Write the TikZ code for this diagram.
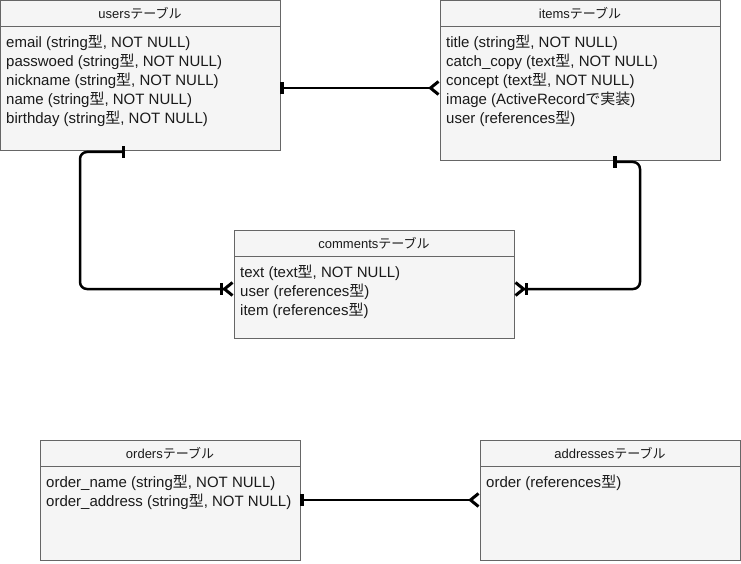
\documentclass[tikz,border=0pt]{standalone}
\usepackage{fontspec}
\setmainfont{Liberation Sans}
\newfontfamily\jpfont{Noto Sans CJK JP}
\newcommand{\jp}[1]{{\jpfont #1}}
\usetikzlibrary{positioning,arrows.meta}
\definecolor{tblfill}{HTML}{F5F5F5}
\definecolor{tblline}{HTML}{666666}
\definecolor{tbltext}{HTML}{1A1A1A}
\begin{document}
\begin{tikzpicture}[x=1pt, y=-1pt,
  tblhead/.style={draw=tblline, fill=tblfill, line width=0.8pt, inner sep=0pt, outer sep=0pt,
    minimum height=26pt, font=\fontsize{13}{15}\selectfont, text=tbltext},
  tblbody/.style={draw=tblline, fill=tblfill, line width=0.8pt, inner sep=0pt, outer sep=0pt},
  fields/.style={anchor=north west, align=left, inner sep=0pt, text=tbltext,
    font=\fontsize{15}{19}\selectfont},
  rel/.style={draw, line width=2.5pt, rounded corners=7pt},
  onemany/.style={arrows={{Rectangle[width=12pt,length=3.5pt]}-{Straight Barb[reversed,length=8pt,width=13pt,line width=3pt]}}},
  oneonemany/.style={arrows={{Rectangle[width=12pt,length=3.5pt]}-{Rectangle[width=12pt,length=3.5pt,sep=-1pt] Straight Barb[reversed,length=8pt,width=13pt,line width=3pt]}}}]
\useasboundingbox (0,0) rectangle (741,564);

% users
\node[tblhead, minimum width=280pt, anchor=north west] (usershead) at (0,0) {users\jp{テーブル}};
\node[tblbody, minimum width=280pt, minimum height=124pt, below=0pt of usershead] (usersbody) {};
\node[fields] (usersfields) at ([xshift=6pt,yshift=-9pt]usersbody.north west)
  {email (string\jp{型}, NOT NULL)\\ passwoed (string\jp{型}, NOT NULL)\\ nickname (string\jp{型}, NOT NULL)\\
   name (string\jp{型}, NOT NULL)\\ birthday (string\jp{型}, NOT NULL)};

% items
\node[tblhead, minimum width=280pt, anchor=north west] (itemshead) at (440,0) {items\jp{テーブル}};
\node[tblbody, minimum width=280pt, minimum height=134pt, below=0pt of itemshead] (itemsbody) {};
\node[fields] (itemsfields) at ([xshift=6pt,yshift=-9pt]itemsbody.north west)
  {title (string\jp{型}, NOT NULL)\\ catch\_copy (text\jp{型}, NOT NULL)\\ concept (text\jp{型}, NOT NULL)\\
   image (ActiveRecord\jp{で実装})\\ user (references\jp{型})};

% comments
\node[tblhead, minimum width=280pt, anchor=north west] (commentshead) at (234,230) {comments\jp{テーブル}};
\node[tblbody, minimum width=280pt, minimum height=82pt, below=0pt of commentshead] (commentsbody) {};
\node[fields] (commentsfields) at ([xshift=6pt,yshift=-9pt]commentsbody.north west)
  {text (text\jp{型}, NOT NULL)\\ user (references\jp{型})\\ item (references\jp{型})};

% orders
\node[tblhead, minimum width=260pt, anchor=north west] (ordershead) at (40,440) {orders\jp{テーブル}};
\node[tblbody, minimum width=260pt, minimum height=94pt, below=0pt of ordershead] (ordersbody) {};
\node[fields] (ordersfields) at ([xshift=6pt,yshift=-9pt]ordersbody.north west)
  {order\_name (string\jp{型}, NOT NULL)\\ order\_address (string\jp{型}, NOT NULL)};

% addresses
\node[tblhead, minimum width=260pt, anchor=north west] (addrhead) at (480,440) {addresses\jp{テーブル}};
\node[tblbody, minimum width=260pt, minimum height=94pt, below=0pt of addrhead] (addrbody) {};
\node[fields] (addrfields) at ([xshift=6pt,yshift=-9pt]addrbody.north west)
  {order (references\jp{型})};

% relations
\draw[rel, onemany] (usersbody.east) -- (usersbody.east -| itemsbody.west);
\draw[rel, oneonemany] ([xshift=-15pt,yshift=-2pt]usersbody.south) -- ++(-45,0)
  |- ([yshift=8pt]commentsbody.west);
\draw[rel, oneonemany] ([xshift=33pt,yshift=-2pt]itemsbody.south) -- ++(27,0)
  |- ([yshift=8pt]commentsbody.east);
\draw[rel, onemany] ([yshift=13pt]ordersbody.east) -- ([yshift=13pt]ordersbody.east -| addrbody.west);
\end{tikzpicture}
\end{document}
